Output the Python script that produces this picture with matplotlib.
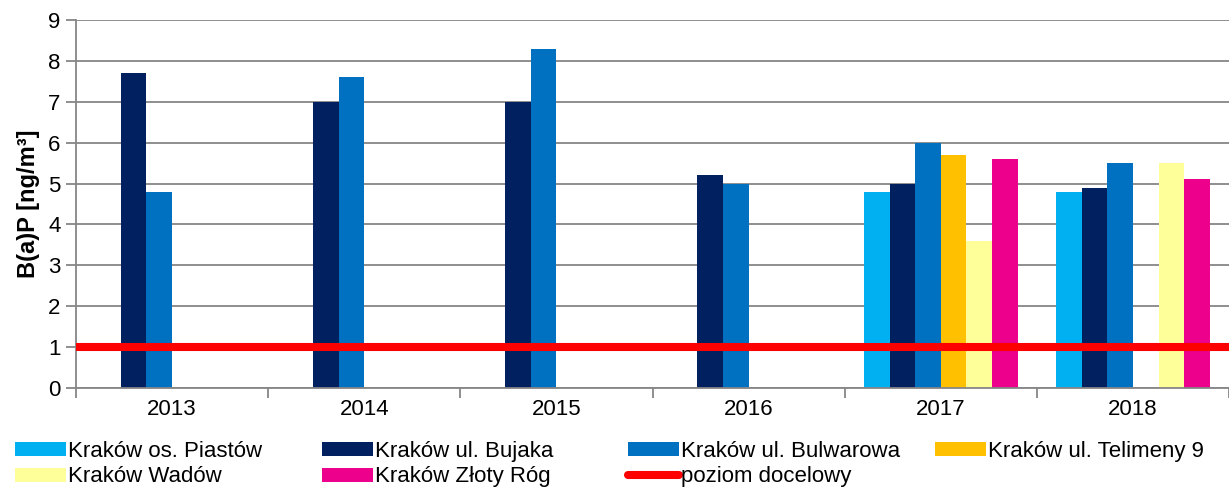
import matplotlib
matplotlib.use('Agg')
import matplotlib.pyplot as plt
import numpy as np
from matplotlib.patches import Patch
from matplotlib.lines import Line2D

plt.rcParams['font.family'] = ['Liberation Sans', 'DejaVu Sans']

# dane
years = ['2013', '2014', '2015', '2016', '2017', '2018']
stations = ['Kraków os. Piastów', 'Kraków ul. Bujaka', 'Kraków ul. Bulwarowa',
            'Kraków ul. Telimeny 9', 'Kraków Wadów', 'Kraków Złoty Róg']
piastow = [np.nan, np.nan, np.nan, np.nan, 4.8, 4.8]
bujaka = [7.7, 7.0, 7.0, 5.2, 5.0, 4.9]
bulwarowa = [4.8, 7.6, 8.3, 5.0, 6.0, 5.5]
telimeny = [np.nan, np.nan, np.nan, np.nan, 5.7, np.nan]
wadow = [np.nan, np.nan, np.nan, np.nan, 3.6, 5.5]
zloty_rog = [np.nan, np.nan, np.nan, np.nan, 5.6, 5.1]
target = 1.0
target_label = 'poziom docelowy'

colors = ['#00B0F0', '#002060', '#0070C0', '#FFC000', '#FFFF99', '#EC008C']
series = [piastow, bujaka, bulwarowa, telimeny, wadow, zloty_rog]
gray = '#868686'
fs = 16

fig = plt.figure(figsize=(12.29, 4.88), dpi=100)
ax = fig.add_axes([76 / 1229, 1 - 388 / 488, 1 - 76 / 1229, (388 - 20) / 488])

x = np.arange(len(years))
w = 0.8 / len(series)
for i, vals in enumerate(series):
    ax.bar(x + (i - 2.5) * w, vals, width=w, color=colors[i], zorder=2)

ax.axhline(target, color='#FF0000', linewidth=5.8, zorder=3)

ax.set_xlim(-0.5, len(years) - 0.5)
ax.set_ylim(0, 9)
ax.set_yticks(range(0, 10))
ax.yaxis.grid(True, color=gray, linewidth=1.3, zorder=0)
ax.set_axisbelow(True)

ax.set_xticks(np.arange(-0.5, len(years)), [''] * (len(years) + 1))
ax.set_xticks(x, years, minor=True)
ax.tick_params(axis='x', which='major', length=7, width=1.3, color=gray, direction='out')
ax.tick_params(axis='x', which='minor', length=0, pad=8, labelsize=fs)
ax.tick_params(axis='y', length=7, width=1.3, color=gray, pad=4, labelsize=fs)

for s in ['top', 'right']:
    ax.spines[s].set_visible(False)
for s in ['left', 'bottom']:
    ax.spines[s].set_color(gray)
    ax.spines[s].set_linewidth(1.3)

ax.set_ylabel('B(a)P [ng/m³]', fontsize=17, fontweight='bold', labelpad=6)

# legenda - 4 kolumny
handles = [Patch(facecolor=c) for c in colors]
handles.append(Line2D([0], [0], color='#FF0000', linewidth=5.8, solid_capstyle='round'))
labels = stations + [target_label]
columns = [[0, 4], [1, 5], [2, 6], [3]]
col_x = [15, 322, 628, 935]
for cols, cx in zip(columns, col_x):
    fig.legend([handles[k] for k in cols], [labels[k] for k in cols],
               loc='upper left', bbox_to_anchor=(cx / 1229, 1 - 441 / 488),
               frameon=False, fontsize=fs, borderpad=0, borderaxespad=0,
               handlelength=2.3, handleheight=0.6, handletextpad=0.1,
               labelspacing=0.2)

fig.savefig('out.png', dpi=100)
